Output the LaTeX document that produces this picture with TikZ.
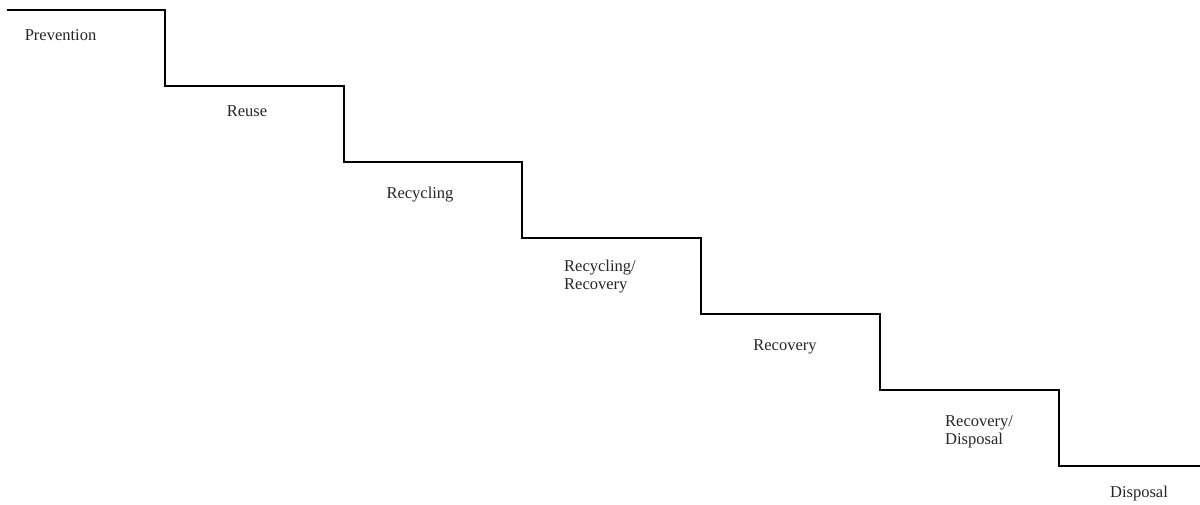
\documentclass[tikz,border=0pt]{standalone}
\usepackage{fontspec}
\setmainfont{Liberation Serif}
\begin{document}
\begin{tikzpicture}[x=1pt,y=-1pt,
  stair/.style={line width=2pt,line join=miter},
  lbl/.style={font=\fontsize{16.5}{18}\selectfont,text=black!85,inner sep=0pt,align=left}]
\useasboundingbox (0,0) rectangle (1200,504);
% staircase outline
\draw[stair] (7,10) -| (165,86) -| (344,162) -| (522,238) -| (701,314)
  -| (880,390) -| (1059,466) -- (1200,466);
% step labels
\node[lbl] (prev) at (60.5,35) {Prevention};
\node[lbl] (reuse) at (247,111) {Reuse};
\node[lbl] (recy) at (420,195) {Recycling};
\node[lbl,anchor=west] (recyrec) at (564,277) {Recycling/\\Recovery};
\node[lbl] (rec) at (785,347) {Recovery};
\node[lbl,anchor=west] (recdis) at (945,432) {Recovery/\\Disposal};
\node[lbl] (dis) at (1139,494) {Disposal};
\end{tikzpicture}
\end{document}
